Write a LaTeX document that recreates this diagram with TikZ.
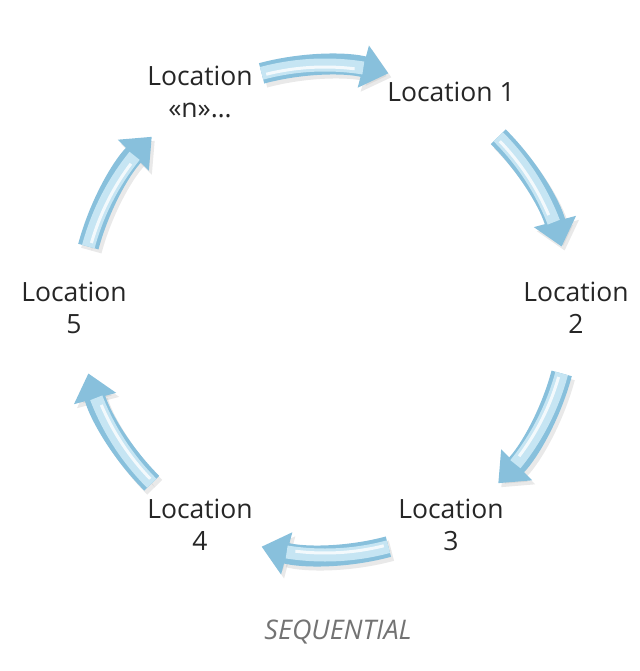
\documentclass[tikz,border=0pt]{standalone}
\usepackage{fontspec}
\setmainfont{Open Sans}
\usetikzlibrary{arrows.meta,calc}

\definecolor{cycleblue}{RGB}{136,192,220}
\definecolor{cyclelight}{RGB}{198,229,243}

\begin{document}
\begin{tikzpicture}[x=1pt,y=-1pt,
  loc/.style={align=center,font=\fontsize{26.5}{32}\selectfont,text=black!85},
  flow/.style={line width=21pt,draw=cycleblue,fill=cycleblue,-{Triangle[width=42pt,length=26pt]}},
  flowlight/.style={line width=13pt,draw=cyclelight},
  flowshadow/.style={line width=21pt,draw=black!25,fill=black!25,opacity=0.35,-{Triangle[width=42pt,length=26pt]}}]
\useasboundingbox (0,0) rectangle (639,671);

% Centre of the cycle
\coordinate (c) at (325,310);

% Locations
\node[loc] (locn) at (200,92) {Location\\«n»…};
\node[loc] (loc1) at (451,92) {Location 1};
\node[loc] (loc2) at (576,308) {Location\\2};
\node[loc] (loc3) at (451,525) {Location\\3};
\node[loc] (loc4) at (200,525) {Location\\4};
\node[loc] (loc5) at (74,308) {Location\\5};

% Cycle arrows
\foreach \m [count=\i] in {90,30,-30,-90,-150,150}{
  \pgfmathsetmacro\sa{-(\m)-15}
  \pgfmathsetmacro\ea{-(\m)+15}
  \pgfmathsetmacro\la{-(\m)+9}
  \coordinate (s\i) at ($(c)+(\sa:245)$);
  \draw[flowshadow] ($(s\i)+(3,4)$) arc[start angle=\sa, end angle=\ea, radius=245];
  \draw[flow] (s\i) arc[start angle=\sa, end angle=\ea, radius=245];
  \draw[flowlight] (s\i) arc[start angle=\sa, end angle=\la, radius=245];
  \draw[white,line width=3pt,opacity=0.8] ($(c)+(\sa+1:243)$) arc[start angle=\sa+1, end angle=\la-2, radius=243];
}

% Caption
\node[font=\fontsize{27}{30}\selectfont\itshape,text=black!55] (caption) at (338,632) {SEQUENTIAL};
\end{tikzpicture}
\end{document}
